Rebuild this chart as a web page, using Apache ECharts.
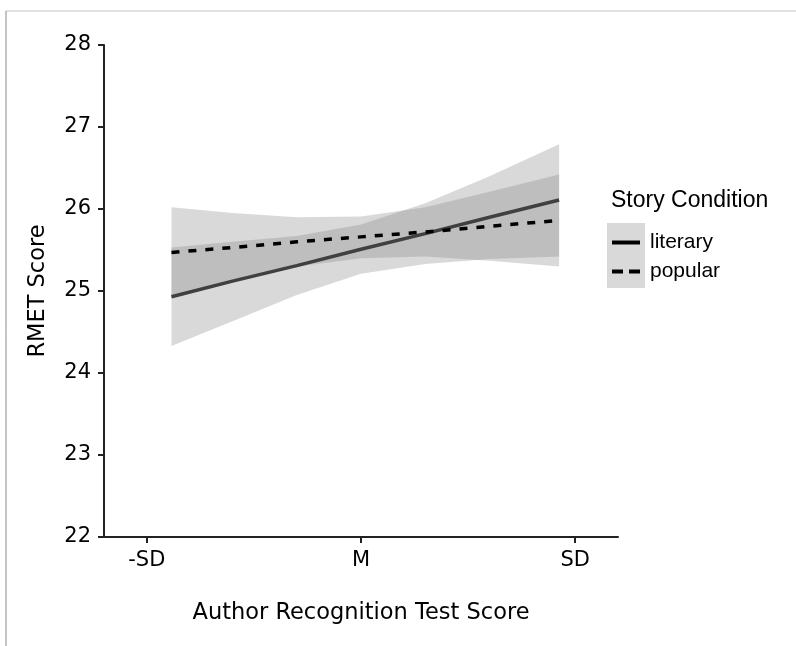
<!DOCTYPE html>
<html>
<head>
<meta charset="utf-8">
<script src="https://cdn.jsdelivr.net/npm/echarts@6/dist/echarts.min.js"></script>
<style>
html,body{margin:0;padding:0;background:#fff;}
#chart{width:796px;height:646px;}
</style>
</head>
<body>
<div id="chart"></div>
<script>
// Data (x: -SD .. SD scale, where -1 = -SD, 0 = M, 1 = SD)
const xPoints = [-0.885, -0.6, -0.3, 0, 0.3, 0.6, 0.925];
const literaryMean  = [24.93, 25.12, 25.31, 25.51, 25.70, 25.90, 26.11];
const literaryLower = [24.33, 24.63, 24.95, 25.21, 25.33, 25.39, 25.42];
const literaryUpper = [25.53, 25.60, 25.67, 25.81, 26.07, 26.40, 26.79];
const popularMean   = [25.47, 25.53, 25.60, 25.66, 25.72, 25.79, 25.86];
const popularLower  = [24.92, 25.11, 25.30, 25.40, 25.42, 25.37, 25.30];
const popularUpper  = [26.02, 25.95, 25.90, 25.91, 26.02, 26.21, 26.42];
const seriesNames = ['literary', 'popular'];
const xTickValues = [-1, 0, 1];
const xTickLabels = ['-SD', 'M', 'SD'];
const yMin = 22, yMax = 28, yStep = 1;

const tickFont = 'DejaVu Sans';
const bandColor = 'rgba(128,128,128,0.3)';

function bandRender(lower, upper) {
  return function (params, api) {
    if (params.dataIndex !== 0) return null;
    const pts = [];
    for (let i = 0; i < xPoints.length; i++) pts.push(api.coord([xPoints[i], upper[i]]));
    for (let i = xPoints.length - 1; i >= 0; i--) pts.push(api.coord([xPoints[i], lower[i]]));
    return {
      type: 'polygon',
      shape: { points: pts },
      style: { fill: bandColor, stroke: null }
    };
  };
}

const chart = echarts.init(document.getElementById('chart'), null, { renderer: 'canvas' });
chart.setOption({
  animation: false,
  backgroundColor: '#ffffff',
  title: {
    text: 'Story Condition',
    left: 611, top: 189, padding: 0,
    textStyle: { fontFamily: 'Liberation Sans', fontSize: 23, fontWeight: 'normal', color: '#000' }
  },
  legend: {
    data: [
      { name: seriesNames[0], icon: 'path://M0,0H28V4H0Z', itemStyle: { color: '#000', borderWidth: 0 } },
      { name: seriesNames[1], icon: 'path://M0,0H11V4H0Z M17,0H28V4H17Z', itemStyle: { color: '#000', borderWidth: 0 } }
    ],
    orient: 'vertical',
    left: 612, top: 232, padding: 0,
    itemWidth: 28, itemHeight: 20, itemGap: 8,
    textStyle: { fontFamily: 'Liberation Sans', fontSize: 21, color: '#000', padding: [0, 0, 0, 5] },
    selectedMode: false
  },
  graphic: [
    { type: 'line', shape: { x1: 6, y1: 11, x2: 796, y2: 11 }, style: { stroke: '#c4c4c4', lineWidth: 1 }, silent: true },
    { type: 'line', shape: { x1: 6, y1: 11, x2: 6, y2: 646 }, style: { stroke: '#8a8a8a', lineWidth: 1 }, silent: true },
    { type: 'rect', shape: { x: 607, y: 223, width: 38, height: 65 }, style: { fill: '#d9d9d9' }, z: -1, silent: true }
  ],
  grid: { left: 104, right: 178, top: 45, bottom: 109 },
  xAxis: {
    type: 'value',
    min: -1.2, max: 1.2,
    name: 'Author Recognition Test Score',
    nameLocation: 'middle',
    nameGap: 65,
    nameTextStyle: { fontFamily: tickFont, fontSize: 22.5, color: '#000' },
    axisLine: { show: true, onZero: false, lineStyle: { color: '#222', width: 2 } },
    axisTick: { show: true, length: 6, customValues: xTickValues, lineStyle: { color: '#222', width: 2 } },
    axisLabel: {
      customValues: xTickValues,
      margin: 13,
      fontFamily: tickFont, fontSize: 21, color: '#000',
      formatter: function (v) { const i = xTickValues.indexOf(v); return i >= 0 ? xTickLabels[i] : ''; }
    },
    splitLine: { show: false }
  },
  yAxis: {
    type: 'value',
    min: yMin, max: yMax, interval: yStep,
    name: 'RMET Score',
    nameLocation: 'middle',
    nameGap: 54,
    nameTextStyle: { fontFamily: tickFont, fontSize: 22.5, color: '#000' },
    axisLine: { show: true, onZero: false, lineStyle: { color: '#222', width: 2 } },
    axisTick: { show: true, length: 6, lineStyle: { color: '#222', width: 2 } },
    axisLabel: { margin: 13, fontFamily: tickFont, fontSize: 21, color: '#000' },
    splitLine: { show: false }
  },
  series: [
    {
      type: 'custom', name: 'literary band',
      renderItem: bandRender(literaryLower, literaryUpper),
      data: xPoints.map((x, i) => [x, literaryLower[i], literaryUpper[i]]),
      encode: { x: 0, y: [1, 2] }, z: 1, silent: true
    },
    {
      type: 'custom', name: 'popular band',
      renderItem: bandRender(popularLower, popularUpper),
      data: xPoints.map((x, i) => [x, popularLower[i], popularUpper[i]]),
      encode: { x: 0, y: [1, 2] }, z: 1, silent: true
    },
    {
      type: 'line', name: seriesNames[0],
      data: xPoints.map((x, i) => [x, literaryMean[i]]),
      symbol: 'none', showSymbol: false,
      color: '#000',
      lineStyle: { color: '#404040', width: 3.5, type: 'solid' },
      z: 3
    },
    {
      type: 'line', name: seriesNames[1],
      data: xPoints.map((x, i) => [x, popularMean[i]]),
      symbol: 'none', showSymbol: false,
      color: '#000',
      lineStyle: { color: '#000', width: 3.5, type: [8, 9] },
      z: 4
    }
  ]
});
</script>
</body>
</html>
